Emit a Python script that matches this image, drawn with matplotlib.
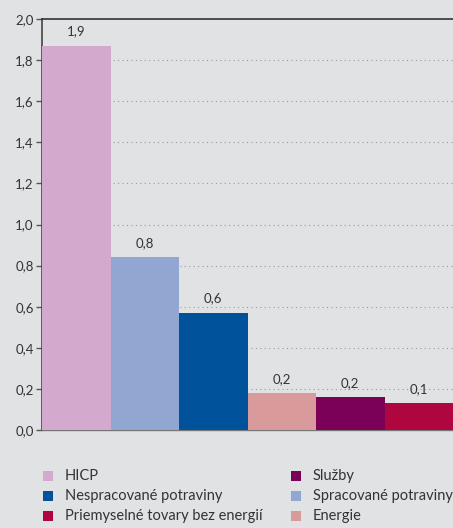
import matplotlib
matplotlib.use("Agg")
import matplotlib.pyplot as plt
from matplotlib.patches import Rectangle

# -------------------------
# DATA
# -------------------------
categories = ["HICP", "Spracované potraviny", "Nespracované potraviny",
              "Energie", "Služby", "Priemyselné tovary bez energií"]
values = [1.87, 0.84, 0.57, 0.18, 0.16, 0.13]
labels = ["1,9", "0,8", "0,6", "0,2", "0,2", "0,1"]
colors = ["#d4a9ce", "#91a6d0", "#00529b", "#d99a9b", "#7a0058", "#b0063f"]
yticks = [0.0, 0.2, 0.4, 0.6, 0.8, 1.0, 1.2, 1.4, 1.6, 1.8, 2.0]
legend_order = ["HICP", "Nespracované potraviny", "Priemyselné tovary bez energií",
                "Služby", "Spracované potraviny", "Energie"]

BG = "#e1e2e4"
TXT = "#333333"
W, H = 453, 528
plt.rcParams["font.family"] = ["Lato", "DejaVu Sans"]

fig = plt.figure(figsize=(W / 100, H / 100), dpi=100, facecolor=BG)
ax = fig.add_axes([42 / W, 1 - 430 / H, 1 - 42 / W, 411 / H])
ax.set_facecolor(BG)

x = range(len(categories))
ax.bar(x, values, width=1.0, color=colors, align="edge", zorder=3)
for i, (v, lab) in enumerate(zip(values, labels)):
    ax.annotate(lab, (i + 0.5, v), xytext=(0, 6), textcoords="offset points",
                ha="center", va="bottom", fontsize=9.5, color=TXT)

ax.set_xlim(0, len(categories))
ax.set_ylim(0, 2.0)
ax.set_yticks(yticks)
ax.set_yticklabels([f"{t:.1f}".replace(".", ",") for t in yticks],
                   fontsize=9.5, color=TXT)
ax.set_xticks([])
ax.tick_params(axis="y", direction="out", length=4, width=1, color="#555555", pad=2)

# dotted gridlines (not at 0 or 2)
for t in yticks[1:-1]:
    ax.axhline(t, color="#999999", linestyle=(0, (1, 3)), linewidth=0.8, zorder=1)

ax.spines["right"].set_visible(False)
ax.spines["left"].set_color("#444444")
ax.spines["left"].set_linewidth(1.2)
ax.spines["top"].set_color("#333333")
ax.spines["top"].set_linewidth(1.2)
ax.spines["bottom"].set_color("#777777")
ax.spines["bottom"].set_linewidth(1.0)

# -------------------------
# LEGEND (two columns, filled column-first)
# -------------------------
cmap = dict(zip(categories, colors))
col_x = [43, 291]
row_y = [476, 496, 516]
for k, name in enumerate(legend_order):
    cx = col_x[k // 3]
    cy = row_y[k % 3]
    fig.add_artist(Rectangle(((cx) / W, 1 - (cy + 5) / H), 10 / W, 10 / H,
                             transform=fig.transFigure, facecolor=cmap[name],
                             edgecolor="none"))
    fig.text((cx + 22) / W, 1 - cy / H, name, ha="left", va="center",
             fontsize=10.5, color=TXT)

fig.savefig("out.png", dpi=100, facecolor=BG)
